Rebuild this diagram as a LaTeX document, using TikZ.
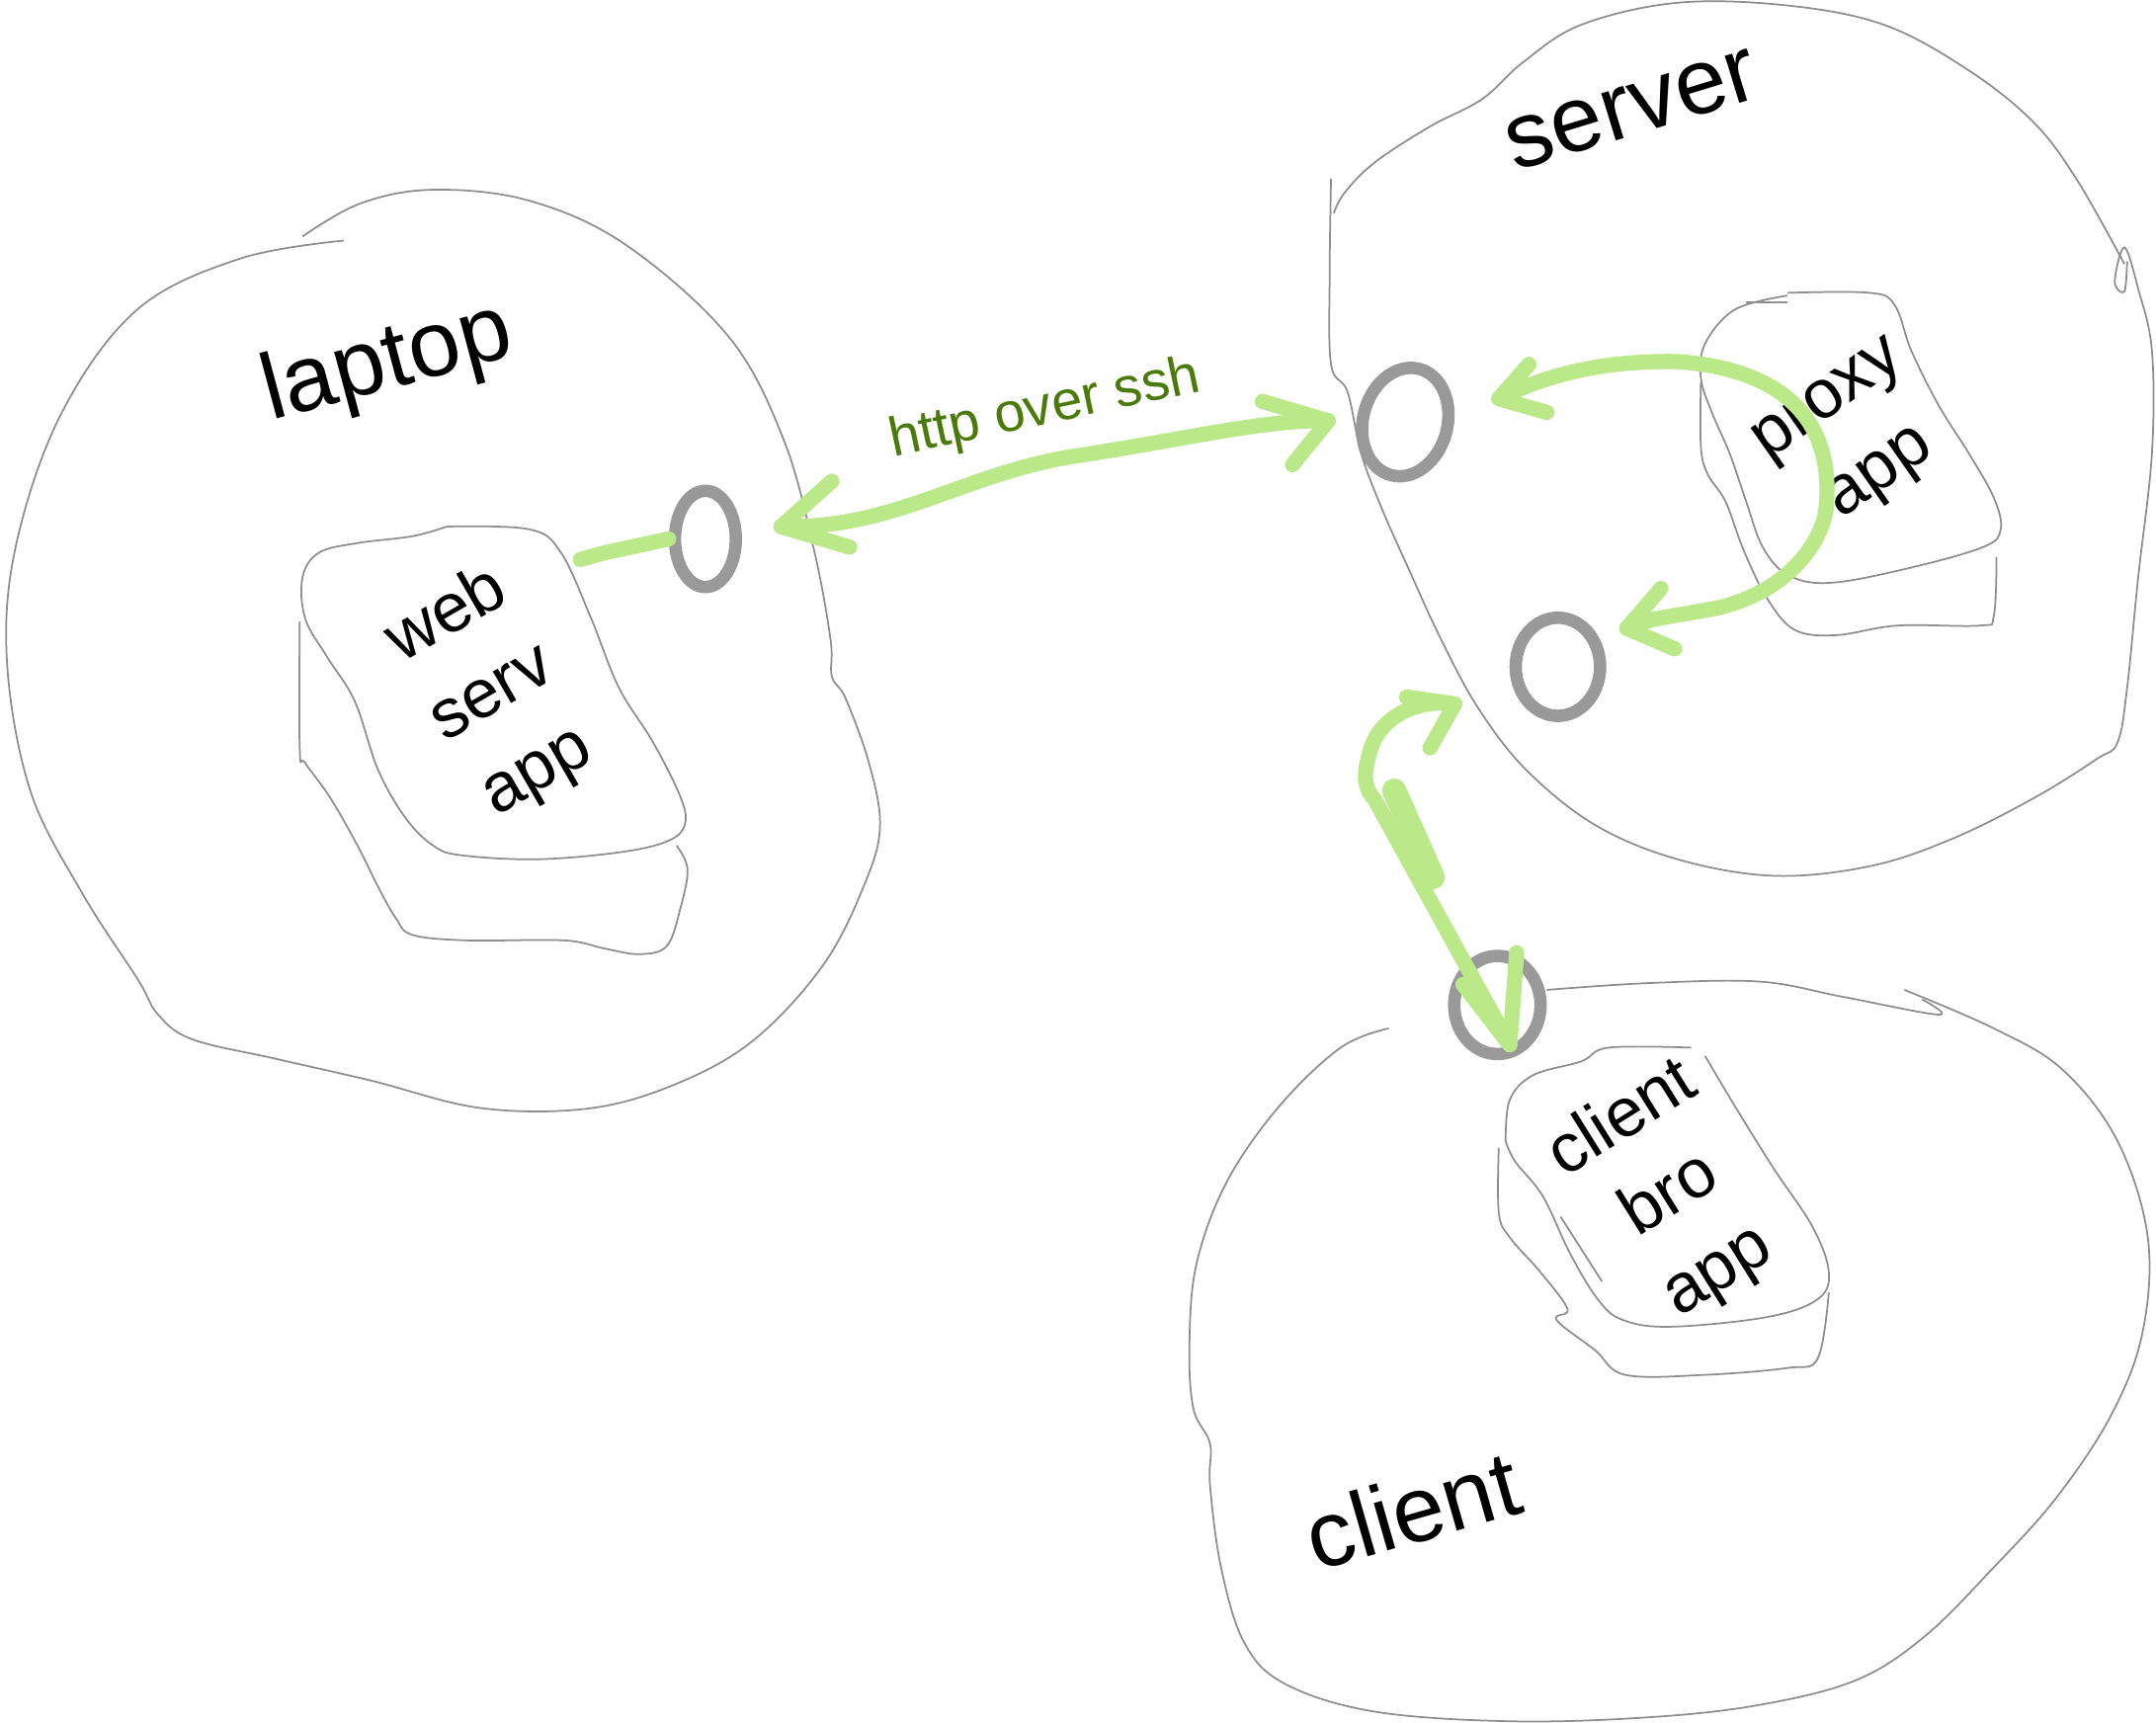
\documentclass[tikz,border=0pt]{standalone}
\usepackage{fontspec}
\setmainfont{Liberation Sans}
\usetikzlibrary{arrows.meta,positioning,shapes.geometric}
\definecolor{portgrey}{HTML}{999999}
\definecolor{outlinegrey}{HTML}{8E8E8E}
\definecolor{wiregreen}{HTML}{BBE98A}
\definecolor{labelgreen}{HTML}{4A7A0A}

\begin{document}
\begin{tikzpicture}[x=0.014cm,y=-0.014cm,
			outline/.style={draw=outlinegrey,line width=0.5pt},
			port/.style={ellipse,draw=portgrey,line width=3.6pt,inner sep=0pt},
			wire/.style={draw=wiregreen,line width=4.4pt,line cap=round,line join=round},
			biglbl/.style={font=\fontsize{27}{30}\selectfont},
			applbl/.style={font=\fontsize{20}{26}\selectfont,align=center}
			]
			\useasboundingbox (0,0) rectangle (1568,1253);
			% machines
			\draw[outline] plot[smooth,tension=0.6] coordinates {(220,172) (262,148) (315,138) (385,146) (455,178) (530,245) (570,320) (592,400) (604,465) (605,492) (615,508) (632,555) (640,600) (630,640) (600,700) (550,755) (495,787) (430,806) (350,806) (270,786) (200,770) (140,756) (115,738) (100,712) (60,650) (22,575) (5,480) (12,395) (45,300) (100,225) (175,188) (250,175)};
			\draw[outline] plot[smooth,tension=0.6] coordinates {(968,130) (967,200) (968,265) (980,285) (990,330) (1005,370) (1025,415) (1048,465) (1075,515) (1110,560) (1160,600) (1220,625) (1290,637) (1360,630) (1420,610) (1480,580) (1525,552) (1540,540) (1547,500) (1555,420) (1565,330) (1565,255) (1555,210) (1545,180) (1538,205) (1545,212) (1547,190)};
			\draw[outline] plot[smooth,tension=0.6] coordinates {(1545,192) (1510,130) (1478,88) (1430,50) (1370,18) (1300,4) (1220,2) (1150,18) (1108,45) (1078,72) (1040,92) (1000,118) (978,140) (970,155)};
			\draw[outline] plot[smooth,tension=0.6] coordinates {(1125,720) (1200,715) (1280,714) (1340,725) (1410,738) (1398,727)};
			\draw[outline] plot[smooth,tension=0.6] coordinates {(1385,720) (1450,748) (1500,778) (1540,830) (1562,900) (1558,970) (1535,1030) (1495,1090) (1450,1140) (1400,1190) (1350,1222) (1280,1240) (1200,1249) (1100,1252) (1000,1245) (935,1225) (905,1195) (888,1140) (880,1080) (880,1050) (868,1025) (865,980) (870,920) (892,860) (930,805) (975,762) (1010,748)};
			% apps
			\draw[outline] plot[smooth,tension=0.6] coordinates {(325,383) (385,385) (408,402) (430,450) (450,500) (475,540) (495,580) (498,600) (485,612) (450,620) (390,625) (335,622) (315,615) (295,595) (275,560) (258,510) (238,478) (222,450) (220,420) (232,402) (260,395) (300,390) (325,383)};
			\draw[outline] plot[smooth,tension=0.6] coordinates {(218,452) (218,545) (222,555) (240,580) (260,615) (275,645) (288,668) (300,680) (340,684) (410,684) (440,690) (465,694) (485,688) (495,660) (500,632) (492,615)};
			\draw[outline] (1270,220) -- (1300,220);
			\draw[outline] plot[smooth,tension=0.6] coordinates {(1300,213) (1360,213) (1378,222) (1390,255) (1410,295) (1432,330) (1450,362) (1455,385) (1442,398) (1385,414) (1330,424) (1300,418) (1282,398) (1270,365) (1258,330) (1245,300) (1237,275) (1240,250) (1262,225) (1300,215)};
			\draw[outline] plot[smooth,tension=0.6] coordinates {(1237,278) (1237,325) (1242,345) (1255,365) (1268,400) (1285,435) (1305,458) (1335,462) (1380,455) (1440,455) (1450,448) (1452,405)};
			\draw[outline] plot[smooth,tension=0.6] coordinates {(1095,830) (1098,800) (1115,782) (1150,772) (1170,762) (1230,762)};
			\draw[outline] plot[smooth,tension=0.6] coordinates {(1240,768) (1262,805) (1290,850) (1318,892) (1330,925) (1322,945) (1285,958) (1215,965) (1180,960) (1162,945) (1142,912) (1122,870) (1102,845) (1095,830)};
			\draw[outline] plot[smooth,tension=0.6] coordinates {(1090,835) (1090,882) (1098,900) (1120,925) (1140,952) (1132,960) (1160,982) (1182,1000) (1240,1000) (1300,995) (1322,988) (1330,940)};
			\draw[outline] (1135,885) -- (1165,932);

			\node[biglbl,rotate=15] (laptop) at (282,265) {laptop};
			\node[biglbl,rotate=17] (server) at (1187,80) {server};
			\node[biglbl,rotate=16] (client) at (1027,1098) {client};
			\node[applbl,rotate=30] (webapp) at (358,505) {web\\serv\\app};
			\node[applbl,rotate=35] (proxyapp) at (1350,320) {proxy\\app};
			\node[applbl,rotate=32] (broapp) at (1215,870) {client\\bro\\app};

			% ports
			\node[port,minimum width=0.62cm,minimum height=0.98cm] (lport) at (513,392) {};
			\node[port,minimum width=0.86cm,minimum height=1.12cm,rotate=-15] (sport) at (1022,307) {};
			\node[port,minimum width=0.86cm,minimum height=1.0cm] (sport2) at (1133,485) {};
			\node[port,minimum width=0.88cm,minimum height=1.0cm] (cport) at (1089,731) {};

			% wires
			\coordinate (lstub) at (422,407);
			\coordinate (ltip) at (568,383);
			\coordinate (stip) at (966,306);
			\coordinate (pmid) at (1328,370);
			\coordinate (ptip) at (1090,290);
			\coordinate (ptip2) at (1183,457);
			\coordinate (htip) at (1058,512);
			\coordinate (ctip) at (1098,760);
			\draw[wire] (lstub) -- (440,402) -- (lport.west);
			\draw[wire] (ltip) .. controls (650,385) and (700,345) .. (780,332) .. controls (860,320) and (920,305) .. (stip);
			\draw[wire] (605,350) -- (ltip) -- (618,398);
			\draw[wire] (918,292) -- (stip) -- (940,338);
			\node[font=\fontsize{16}{18}\selectfont,text=labelgreen,rotate=12] (sshlbl) at (760,298) {http over ssh};
			\draw[wire] (pmid) .. controls (1335,300) and (1290,268) .. (1220,263) .. controls (1160,262) and (1120,275) .. (ptip);
			\draw[wire] (1112,265) -- (ptip) -- (1125,300);
			\draw[wire] (pmid) .. controls (1325,395) and (1300,430) .. (1250,442) .. controls (1220,448) and (1195,450) .. (ptip2);
			\draw[wire] (1208,428) -- (ptip2) -- (1218,472);
			\draw[wire] (htip) .. controls (1030,508) and (1002,522) .. (996,548) .. controls (990,568) and (994,575) .. (1000,582) -- (ctip);
			\draw[wire] (1023,507) -- (htip) -- (1040,544);
			\draw[wire] (1064,716) -- (ctip) -- (1103,693);
			\draw[wire,line width=7pt] (1014,575) -- (1042,638);
		\end{tikzpicture}
\end{document}
